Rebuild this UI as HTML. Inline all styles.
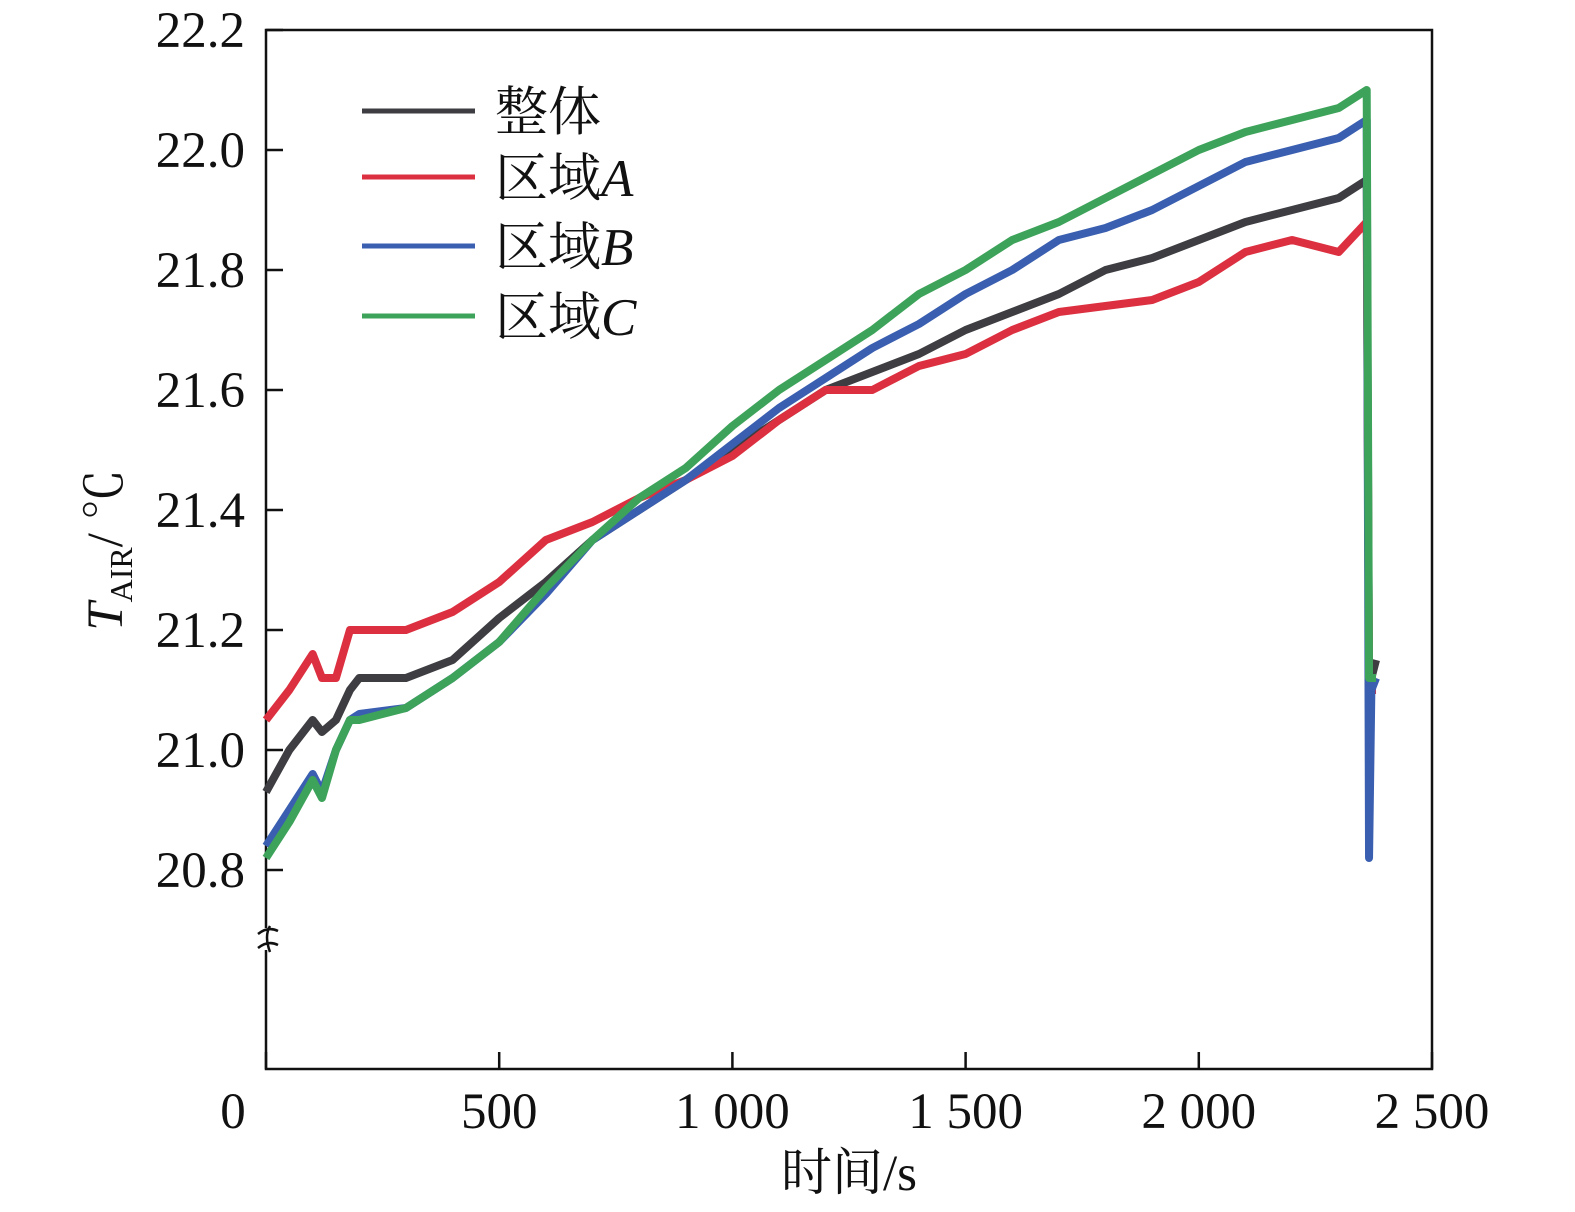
<!DOCTYPE html>
<html><head><meta charset="utf-8">
<style>
html,body{margin:0;padding:0;background:#fff;}
svg{display:block;font-family:"Liberation Serif","Noto Serif CJK SC",serif;}
</style></head>
<body>
<svg id="chart" width="1575" height="1212" viewBox="0 0 1575 1212" xmlns="http://www.w3.org/2000/svg">
<g id="axes"></g>
<g id="series"></g>
<g id="legend"></g>
</svg>
<script>
const xTicks=[0,500,1000,1500,2000,2500];
const xTickLabels=["0","500","1 000","1 500","2 000","2 500"];
const yTicks=[20.8,21.0,21.2,21.4,21.6,21.8,22.0,22.2];
const yTickLabels=["20.8","21.0","21.2","21.4","21.6","21.8","22.0","22.2"];
const seriesNames=["整体","区域A","区域B","区域C"];
const seriesColors=["#3d3d42","#dc3040","#3a5fb0","#3ea35a"];
const timeAll=[0,50,100,120,150,180,200,300,400,500,600,700,800,900,1000,1100,1200,1300,1400,1500,1600,1700,1800,1900,2000,2100,2200,2300,2360];
const valOverall=[20.93,21.0,21.05,21.03,21.05,21.1,21.12,21.12,21.15,21.22,21.28,21.35,21.4,21.45,21.5,21.55,21.6,21.63,21.66,21.7,21.73,21.76,21.8,21.82,21.85,21.88,21.9,21.92,21.95];
const valA=[21.05,21.1,21.16,21.12,21.12,21.2,21.2,21.2,21.23,21.28,21.35,21.38,21.42,21.45,21.49,21.55,21.6,21.6,21.64,21.66,21.7,21.73,21.74,21.75,21.78,21.83,21.85,21.83,21.88];
const valB=[20.84,20.9,20.96,20.93,21.0,21.05,21.06,21.07,21.12,21.18,21.26,21.35,21.4,21.45,21.51,21.57,21.62,21.67,21.71,21.76,21.8,21.85,21.87,21.9,21.94,21.98,22.0,22.02,22.05];
const valC=[20.82,20.88,20.95,20.92,21.0,21.05,21.05,21.07,21.12,21.18,21.27,21.35,21.42,21.47,21.54,21.6,21.65,21.7,21.76,21.8,21.85,21.88,21.92,21.96,22.0,22.03,22.05,22.07,22.1];
const tailTime=[2365,2370,2380];
const tailOverall=[21.1,21.12,21.15];
const tailA=[21.1,21.1,21.1];
const tailB=[20.82,21.1,21.12];
const tailC=[21.12,21.12,21.12];

const L=266,R=1432,T=30,B=1069;
const xs=v=>L+(v-0)/2500*(R-L);
const ys=v=>870-(v-20.8)/1.4*840;
const NS="http://www.w3.org/2000/svg";
function mk(tag,attrs,parent){const e=document.createElementNS(NS,tag);for(const k in attrs)e.setAttribute(k,attrs[k]);parent.appendChild(e);return e;}
const axes=document.getElementById('axes');
let frame=mk('rect',{x:L,y:T,width:R-L,height:B-T,fill:'none',stroke:'#111','stroke-width':2.5},axes);


let brk=mk('rect',{x:258,y:928,width:20,height:22,fill:'#fff'},axes);


let br=mk('path',{d:'M258 934 q10 -8 20 -3 M258 948 q10 -8 20 -3 M270 926 q-6 10 0 26',fill:'none',stroke:'#111','stroke-width':2.5},axes);


xTicks.forEach((t,i)=>{
  const x=xs(t);
  let tk=mk('line',{x1:x,x2:x,y1:B,y2:B-17,stroke:'#111','stroke-width':2.5},axes);
  
  
  let tx=mk('text',{x:i==0?233:x,y:1128,'font-size':51,'text-anchor':'middle',fill:'#111'},axes);
  tx.textContent=xTickLabels[i];
  
  
});
yTicks.forEach((t,i)=>{
  const y=ys(t);
  let tk=mk('line',{x1:L,x2:L+17,y1:y,y2:y,stroke:'#111','stroke-width':2.5},axes);
  
  
  let tx=mk('text',{x:245,y:y+17,'font-size':51,'text-anchor':'end',fill:'#111'},axes);
  tx.textContent=yTickLabels[i];
  
  
});
let xt=mk('text',{x:849,y:1190,'font-size':51,'text-anchor':'middle',fill:'#111'},axes);
xt.textContent='时间/s';


let yt=mk('text',{x:0,y:0,'font-size':51,'text-anchor':'middle',fill:'#111',transform:'translate(122,550) rotate(-90)'},axes);
yt.innerHTML='<tspan font-style="italic">T</tspan><tspan font-size="32" dy="10">AIR</tspan><tspan dy="-10">/ ℃</tspan>';



const vals=[valOverall,valA,valB,valC];
const tails=[tailOverall,tailA,tailB,tailC];
const names=['line-overall','line-zone-a','line-zone-b','line-zone-c'];
const sg=document.getElementById('series');
vals.forEach((v,si)=>{
  const pts=timeAll.map((t,i)=>xs(t)+','+ys(v[i]));
  tailTime.forEach((t,i)=>pts.push(xs(t)+','+ys(tails[si][i])));
  let p=mk('polyline',{points:pts.join(' '),fill:'none',stroke:seriesColors[si],'stroke-width':8,'stroke-linejoin':'round'},sg);
  
  
});
const lg=document.getElementById('legend');
const ly=[111,177,246,316];
seriesNames.forEach((n,i)=>{
  let l=mk('line',{x1:362,x2:475,y1:ly[i],y2:ly[i],stroke:seriesColors[i],'stroke-width':5},lg);
  
  
  let t=mk('text',{x:495,y:ly[i]+19,'font-size':53,fill:'#111'},lg);
  if(i==0)t.textContent=n;else t.innerHTML='区域<tspan font-style="italic">'+n.slice(2)+'</tspan>';
  
  
});
</script>
</body></html>
